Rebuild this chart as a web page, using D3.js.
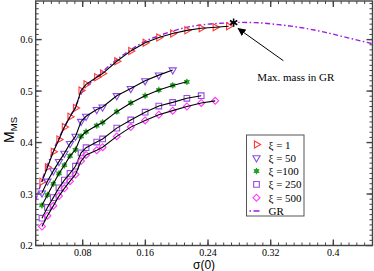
<!DOCTYPE html>
<html>
<head>
<meta charset="utf-8">
<script src="https://cdn.jsdelivr.net/npm/d3@7"></script>
<style>
body { margin: 0; background: #fff; }
text { font-family: "Liberation Serif", "DejaVu Serif", serif; }
</style>
</head>
<body>
<svg id="chart" width="374" height="271"></svg>
<script>
// central density sigma(0), shared by all sequences
var sigma = [0.028, 0.035, 0.0425, 0.0497, 0.0566, 0.0638, 0.0708, 0.0779, 0.0843, 0.0979,
	0.1054, 0.1235, 0.1414, 0.1597, 0.1772, 0.1949, 0.213, 0.2313, 0.2492, 0.2663];

// M_MS for each xi
var massXi1 = [0.324, 0.352, 0.382, 0.406, 0.430, 0.450, 0.467, 0.501, 0.513, 0.527,
	0.534, 0.558, 0.578, 0.594, 0.604, 0.612, 0.618, 0.622, 0.624, 0.626];
var massXi50 = [0.302, 0.325, 0.345, 0.363, 0.379, 0.398, 0.412, 0.441, 0.451, 0.464,
	0.469, 0.491, 0.505, 0.520, 0.531, 0.541];
var massXi100 = [0.278, 0.298, 0.320, 0.340, 0.356, 0.374, 0.386, 0.412, 0.421, 0.433,
	0.439, 0.460, 0.477, 0.491, 0.502, 0.511, 0.518];
var massXi250 = [0.253, 0.274, 0.293, 0.312, 0.327, 0.340, 0.354, 0.380, 0.390, 0.401,
	0.407, 0.428, 0.444, 0.459, 0.471, 0.478, 0.486, 0.491];
var massXi500 = [0.237, 0.258, 0.277, 0.296, 0.311, 0.325, 0.338, 0.364, 0.376, 0.385,
	0.391, 0.412, 0.430, 0.443, 0.454, 0.462, 0.470, 0.477, 0.481];

// GR curve
var grSigma = [0.02, 0.03, 0.04, 0.05, 0.06, 0.07, 0.08, 0.09, 0.10, 0.12, 0.14, 0.16, 0.18,
	0.20, 0.22, 0.24, 0.26, 0.28, 0.30, 0.33, 0.36, 0.39, 0.42, 0.45];
var grMass = [0.288, 0.335, 0.376, 0.410, 0.440, 0.468, 0.500, 0.516, 0.530, 0.557, 0.579, 0.597, 0.609,
	0.619, 0.626, 0.630, 0.632, 0.6335, 0.633, 0.629, 0.623, 0.614, 0.603, 0.592];

// max mass in GR
var maxMass = [0.2727, 0.633];

var xTicks = [0.08, 0.16, 0.24, 0.32, 0.4];
var yTicks = [0.2, 0.3, 0.4, 0.5, 0.6];
var legendLabels = ["\u03be = 1", "\u03be = 50", "\u03be =100", "\u03be = 250", "\u03be = 500", "GR"];

//LAYOUT
var plotLeft = 35.7, plotRight = 372.5, plotTop = 1, plotBottom = 245.5;

var svg = d3.select("#chart");

var x = d3.scaleLinear().domain([0.02, 0.45]).range([plotLeft, plotRight]);
var y = d3.scaleLinear().domain([0.2, 0.675]).range([plotBottom, plotTop]);

var frameColor = "#444";

//minor + major ticks on all four sides, pointing in
function drawTicks() {
	var minorX = d3.range(3, 45).map(d => d / 100);
	var minorY = d3.range(21, 68).map(d => d / 100);

	var g = svg.append("g").attr("stroke", frameColor);

	var xt = g.selectAll("line.xt")
		.data(minorX)
		.enter();
	xt.append("line")
		.attr("x1", d => x(d)).attr("x2", d => x(d))
		.attr("y1", plotBottom).attr("y2", plotBottom - 3);
	xt.append("line")
		.attr("x1", d => x(d)).attr("x2", d => x(d))
		.attr("y1", plotTop).attr("y2", plotTop + 3);

	var xm = g.selectAll("line.xm")
		.data(xTicks)
		.enter();
	xm.append("line")
		.attr("x1", d => x(d)).attr("x2", d => x(d))
		.attr("y1", plotBottom).attr("y2", plotBottom - 6)
		.attr("stroke-width", 1.4);
	xm.append("line")
		.attr("x1", d => x(d)).attr("x2", d => x(d))
		.attr("y1", plotTop).attr("y2", plotTop + 6)
		.attr("stroke-width", 1.4);

	var yt = g.selectAll("line.yt")
		.data(minorY)
		.enter();
	yt.append("line")
		.attr("y1", d => y(d)).attr("y2", d => y(d))
		.attr("x1", plotLeft).attr("x2", plotLeft + 3);
	yt.append("line")
		.attr("y1", d => y(d)).attr("y2", d => y(d))
		.attr("x1", plotRight).attr("x2", plotRight - 3);

	var ym = g.selectAll("line.ym")
		.data(yTicks)
		.enter();
	ym.append("line")
		.attr("y1", d => y(d)).attr("y2", d => y(d))
		.attr("x1", plotLeft).attr("x2", plotLeft + 6)
		.attr("stroke-width", 1.4);
	ym.append("line")
		.attr("y1", d => y(d)).attr("y2", d => y(d))
		.attr("x1", plotRight).attr("x2", plotRight - 6)
		.attr("stroke-width", 1.4);
}
drawTicks();

svg.append("rect")
	.attr("x", plotLeft).attr("y", plotTop)
	.attr("width", plotRight - plotLeft).attr("height", plotBottom - plotTop)
	.attr("fill", "none")
	.attr("stroke", frameColor)
	.attr("stroke-width", 1.4);

//tick labels
svg.append("g").selectAll("text")
	.data(xTicks)
	.enter()
	.append("text")
	.attr("x", d => x(d))
	.attr("y", plotBottom + 10.5)
	.attr("text-anchor", "middle")
	.attr("font-size", 10)
	.text(d => d);

svg.append("g").selectAll("text")
	.data(yTicks)
	.enter()
	.append("text")
	.attr("x", plotLeft - 3)
	.attr("y", d => y(d) + 3.5)
	.attr("text-anchor", "end")
	.attr("font-size", 10)
	.text(d => d3.format(".1f")(d));

//axis titles
svg.append("text")
	.attr("x", (plotLeft + plotRight) / 2)
	.attr("y", 269)
	.attr("text-anchor", "middle")
	.attr("font-size", 12)
	.style("font-family", "Liberation Sans, Arial, sans-serif")
	.text("\u03c3(0)");

var yTitle = svg.append("text")
	.attr("transform", "translate(14," + 130 + ") rotate(-90)")
	.attr("text-anchor", "middle")
	.style("font-family", "Liberation Sans, Arial, sans-serif")
	.attr("font-size", 14);
yTitle.append("tspan").text("M");
yTitle.append("tspan").attr("font-size", 9.5).attr("dy", 3).text("MS");

//GR curve
var grLine = d3.line()
	.x((d, i) => x(grSigma[i]))
	.y(d => y(d))
	.curve(d3.curveMonotoneX);

var grColor = "#9a1ce0";

svg.append("clipPath").attr("id", "plotclip")
	.append("rect")
	.attr("x", plotLeft).attr("y", plotTop)
	.attr("width", plotRight - plotLeft).attr("height", plotBottom - plotTop);

svg.append("path")
	.attr("d", grLine(grMass))
	.attr("clip-path", "url(#plotclip)")
	.attr("fill", "none")
	.attr("stroke", grColor)
	.attr("stroke-width", 1.4)
	.attr("stroke-dasharray", "5,2.5,1.5,2.5");

//sequences
var series = [
	{ mass: massXi1, color: "#ff3a3a", shape: d3.symbolTriangle, rot: 90, size: 22 },
	{ mass: massXi50, color: "#8a48e8", shape: d3.symbolTriangle, rot: 180, size: 22 },
	{ mass: massXi100, color: "#22a022", shape: d3.symbolAsterisk, rot: 0, size: 28 },
	{ mass: massXi250, color: "#9a4ae0", shape: d3.symbolSquare, rot: 0, size: 32 },
	{ mass: massXi500, color: "#ff38ff", shape: d3.symbolSquare, rot: 45, size: 24 }
];

function drawMarker(g, s, px, py) {
	if (s.shape === d3.symbolAsterisk) {
		g.append("circle")
			.attr("cx", px).attr("cy", py).attr("r", 2.3)
			.attr("fill", s.color);
	}
	g.append("path")
		.attr("d", d3.symbol().type(s.shape).size(s.size)())
		.attr("transform", "translate(" + px + "," + py + ") rotate(" + s.rot + ")")
		.attr("fill", "none")
		.attr("stroke", s.color)
		.attr("stroke-width", 1.1);
}

var line = d3.line()
	.x((d, i) => x(sigma[i]))
	.y(d => y(d));

series.forEach(s => {
	var g = svg.append("g");
	s.mass.forEach((m, i) => drawMarker(g, s, x(sigma[i]), y(m)));
	svg.append("path")
		.attr("d", line(s.mass))
		.attr("fill", "none")
		.attr("stroke", "#000")
		.attr("stroke-width", 1.1);
});

//max mass star + annotation
svg.append("path")
	.attr("d", d3.symbol().type(d3.symbolAsterisk).size(50)())
	.attr("transform", "translate(" + x(maxMass[0]) + "," + y(maxMass[1]) + ")")
	.attr("fill", "none")
	.attr("stroke", "#000")
	.attr("stroke-width", 1.5);

svg.append("defs").append("marker")
	.attr("id", "arrowhead")
	.attr("viewBox", "0 0 10 10")
	.attr("refX", 9).attr("refY", 5)
	.attr("markerWidth", 8).attr("markerHeight", 8)
	.attr("markerUnits", "userSpaceOnUse")
	.attr("orient", "auto")
	.append("path")
	.attr("d", "M0,0 L10,5 L0,10 z")
	.attr("fill", "#000");

svg.append("line")
	.attr("x1", x(0.3362)).attr("y1", y(0.559))
	.attr("x2", x(0.2785)).attr("y2", y(0.6215))
	.attr("stroke", "#000")
	.attr("stroke-width", 1)
	.attr("marker-end", "url(#arrowhead)");

svg.append("text")
	.attr("x", x(0.303))
	.attr("y", y(0.52))
	.attr("font-size", 11)
	.text("Max. mass in GR");

//LEGEND
var lg = svg.append("g").attr("transform", "translate(246.5,135)");
lg.append("rect")
	.attr("width", 57.5).attr("height", 81)
	.attr("fill", "#fff")
	.attr("stroke", "#555")
	.attr("stroke-width", 1);

legendLabels.forEach((label, i) => {
	var ly = 9.5 + i * 13.3;
	if (i < series.length) {
		drawMarker(lg, series[i], 10, ly);
	} else {
		lg.append("line")
			.attr("x1", 3).attr("x2", 17)
			.attr("y1", ly).attr("y2", ly)
			.attr("stroke", grColor)
			.attr("stroke-width", 1.4)
			.attr("stroke-dasharray", "1.5,2.5,6,10");
	}
	lg.append("text")
		.attr("x", 22)
		.attr("y", ly + 4)
		.attr("font-size", 11)
		.text(label);
});
</script>
</body>
</html>
